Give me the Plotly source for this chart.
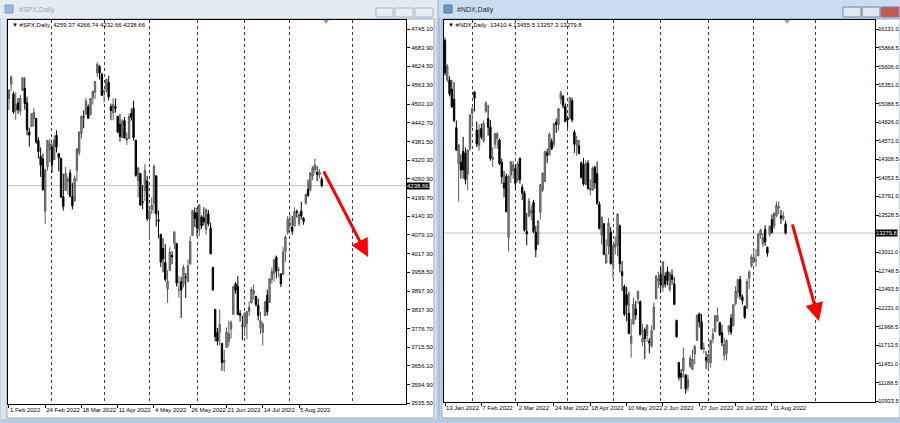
import plotly.graph_objects as go
import pandas as pd

# ---------------- data ----------------
US_HOLIDAYS = ["2022-01-17", "2022-02-21", "2022-04-15", "2022-05-30", "2022-06-20", "2022-07-04"]

# SPX daily, 1 Feb 2022 - 19 Aug 2022
spx_open = [4519.6,4566.4,4535.4,4482.8,4505.8,4480.0,4547.0,4553.2,4506.3,4412.6,4429.3,4455.8,4456.1,4384.6,4332.7,4324.9,4155.8,4298.4,4354.2,
            4363.1,4322.6,4401.3,4342.1,4327.0,4202.7,4223.1,4252.6,4279.5,4202.8,4188.8,4288.1,4345.1,4407.3,4462.4,4469.1,4493.1,4469.0,4522.7,4541.1,4602.9,4624.2,4599.0,
            4540.3,4547.9,4572.5,4494.2,4474.7,4494.2,4462.6,4437.6,4394.3,4449.1,4385.6,4390.6,4472.3,4489.2,4385.8,4255.3,4278.1,4186.5,4222.6,4253.8,
            4130.6,4159.8,4181.2,4270.4,4128.2,4081.3,4035.2,3990.1,3903.9,3963.9,4013.0,4052.0,4051.9,3899.0,3927.8,3919.4,3942.9,3929.6,3984.6,4077.4,4151.1,
            4149.8,4095.4,4137.6,4134.7,4096.5,4147.1,4101.7,3974.4,3838.2,3763.5,3764.1,3728.2,3665.9,3715.3,3733.9,3774.7,3821.8,3920.8,3913.0,3825.1,3785.9,
            3781.0,3792.6,3831.8,3858.9,3888.3,3880.9,3851.9,3779.7,3763.9,3818.0,3883.8,3860.7,3935.3,3955.5,4007.4,3965.7,3953.2,3951.4,4026.1,4087.3,
            4112.4,4104.2,4107.9,4154.9,4115.9,4155.9,4133.1,4181.0,4227.4,4225.0,4269.4,4290.5,4280.4,4273.1,4259.4]
spx_high = [4550.5,4595.3,4542.9,4539.7,4521.9,4531.3,4590.0,4588.9,4526.3,4426.2,4472.8,4490.0,4456.1,4394.6,4362.1,4341.5,4294.7,4385.3,4388.8,
            4375.0,4401.5,4416.8,4342.1,4327.0,4276.9,4299.4,4268.3,4291.0,4247.6,4271.1,4358.0,4412.7,4465.4,4481.8,4522.0,4501.1,4520.6,4546.0,4575.7,4637.3,4627.8,4603.1,
            4548.7,4583.5,4593.5,4503.9,4521.2,4520.4,4464.4,4471.0,4453.9,4460.5,4410.3,4471.0,4488.3,4512.9,4385.8,4299.0,4278.1,4240.7,4308.5,4269.7,
            4169.8,4200.1,4307.7,4270.4,4157.7,4081.3,4068.8,4049.1,3964.8,4038.9,4026.2,4090.7,4051.9,3945.9,3943.4,3981.9,3955.7,3999.3,4075.1,4158.5,4168.3,
            4166.5,4177.5,4142.7,4168.8,4164.9,4160.1,4119.1,3974.4,3838.2,3778.2,3837.6,3728.2,3707.7,3779.7,3801.8,3802.6,3913.7,3927.7,3945.9,3836.5,3818.0,
            3829.8,3832.2,3863.6,3910.6,3918.5,3880.9,3873.4,3829.4,3796.4,3863.6,3902.4,3939.8,3974.1,3999.3,4012.4,3975.3,3953.2,4039.6,4078.9,4140.2,
            4144.9,4140.5,4167.7,4161.3,4151.6,4186.6,4137.3,4211.0,4257.9,4280.5,4301.8,4325.3,4302.2,4292.5,4266.7]
spx_low = [4483.5,4544.3,4470.4,4451.5,4471.5,4465.4,4547.0,4484.3,4401.4,4364.8,4429.3,4429.0,4373.8,4327.2,4267.1,4221.5,4114.7,4286.8,4315.1,
           4279.5,4322.6,4345.6,4284.9,4199.9,4157.9,4223.1,4209.8,4200.5,4161.7,4187.9,4251.9,4335.7,4390.6,4424.3,4469.1,4455.8,4465.2,4501.1,4517.7,4589.7,4581.3,4530.4,
           4507.6,4539.2,4514.2,4450.0,4450.3,4474.6,4408.4,4381.3,4392.7,4390.8,4370.3,4390.6,4448.8,4384.5,4267.6,4200.8,4175.0,4162.9,4188.6,4124.3,
           4062.5,4147.1,4148.9,4106.0,4067.9,3975.5,3958.2,3928.8,3858.9,3963.9,3983.9,4033.9,3911.9,3876.6,3810.3,3909.0,3875.1,3925.0,3984.6,4077.4,4104.9,
           4073.9,4074.4,4098.7,4109.2,4080.2,4107.2,4017.2,3900.2,3734.3,3721.6,3722.3,3639.8,3636.9,3715.3,3717.7,3743.5,3821.8,3889.7,3820.1,3799.0,3738.7,
           3752.1,3742.1,3817.2,3858.9,3869.3,3847.2,3802.4,3759.1,3721.6,3817.2,3818.6,3860.7,3922.0,3927.6,3938.2,3943.5,3910.7,3951.4,3992.0,4079.2,
           4096.0,4079.8,4107.9,4135.4,4107.3,4128.9,4112.1,4177.3,4201.4,4219.8,4256.9,4277.8,4253.1,4262.0,4232.7]
spx_close = [4546.5,4589.4,4477.4,4500.5,4483.9,4521.5,4587.2,4504.1,4418.6,4401.7,4471.1,4475.0,4380.3,4348.9,4304.8,4225.5,4288.7,4384.7,4373.9,
             4306.3,4386.5,4363.5,4328.9,4201.1,4170.7,4277.9,4259.5,4204.3,4173.1,4262.5,4357.9,4411.7,4463.1,4461.2,4511.6,4456.2,4520.2,4543.1,4575.5,4631.6,4602.5,4530.4,
             4545.9,4582.6,4525.1,4481.2,4500.2,4488.3,4412.5,4397.5,4446.6,4392.6,4391.7,4462.2,4459.5,4393.7,4271.8,4296.1,4175.2,4184.0,4287.5,4131.9,
             4155.4,4175.5,4300.2,4146.9,4123.3,3991.2,4001.1,3935.2,3930.1,4023.9,4008.0,4088.9,3923.7,3900.8,3901.4,3973.8,3941.5,3978.7,4057.8,4158.2,4132.2,
             4101.2,4176.8,4108.5,4121.4,4160.7,4115.8,4017.8,3900.9,3749.6,3735.5,3790.0,3666.8,3674.8,3764.8,3759.9,3795.7,3911.7,3900.1,3821.6,3818.8,3785.4,
             3825.3,3831.4,3845.1,3902.6,3899.4,3854.4,3818.8,3801.8,3790.4,3863.2,3830.9,3936.7,3959.9,3999.0,3961.6,3966.8,3921.1,4023.6,4072.4,4130.3,
             4118.6,4091.2,4155.2,4151.9,4145.2,4140.1,4122.5,4210.2,4207.3,4280.2,4297.1,4305.2,4274.0,4283.7,4238.66]

# NDX daily, 13 Jan 2022 - 19 Aug 2022
ndx_open = [15969,15420,15420,15290,15150,14750,14250,14270,14420,14400,14100,14460,
            14950,15250,14720,14500,14740,14570,14980,14880,14760,14310,14520,14600,14580,14270,13980,14070,13220,14090,14150,
            14180,14020,14320,13920,13840,13300,13520,13560,13710,13290,13120,13570,13880,14000,14400,14370,14560,14520,14830,14790,15150,15190,15050,
            14880,14880,15130,14690,14500,14500,14260,14240,13960,14260,13880,13880,14200,14110,13680,13250,13410,12860,13100,13290,
            12830,13080,13110,13380,12740,12530,12420,12160,11740,12010,12220,12360,12320,11760,11930,11850,11770,11700,11930,12360,12610,
            12700,12520,12680,12740,12490,12690,12570,12060,11470,11320,11350,11300,11130,11420,11380,11590,11780,12150,12040,11660,11540,
            11470,11470,11800,11900,12050,12030,11890,11570,11600,11910,12090,11990,12290,12450,12630,12390,12260,12230,12650,12820,
            12880,12890,12960,13250,13130,13330,13080,13260,13470,13380,13520,13630,13520,13480,13410.4]
ndx_high = [16010,15640,15470,15420,15390,14850,14520,14380,14624,14477,14450,14940,
            15030,15260,14840,14800,14810,14850,15120,15070,14860,14480,14680,14690,14600,14320,14150,14110,14090,14290,14290,
            14230,14280,14340,13960,13870,13560,13770,13670,13740,13380,13460,13960,14120,14430,14460,14690,14600,14810,14880,15020,15265,15210,15090,
            14910,15180,15170,14720,14640,14580,14280,14330,14290,14300,14030,14210,14220,14280,13720,13510,13420,13190,13490,13360,
            13110,13240,13560,13400,12890,12560,12530,12460,12080,12380,12330,12480,12340,12010,11960,12000,11810,11990,12310,12690,12740,
            12790,12880,12730,12810,12740,12770,12660,12070,11470,11380,11680,11310,11300,11570,11650,11720,12140,12170,12150,11750,11630,
            11590,11790,11950,12140,12240,12040,12000,11820,11800,11990,12150,12290,12540,12640,12680,12420,12260,12640,12760,12980,
            13050,13060,13280,13340,13280,13390,13090,13390,13540,13560,13720,13720,13600,13580,13455.5]
ndx_low = [15480,15390,15190,15030,14830,14430,13720,14040,14040,13960,13880,14430,
           14760,14980,14480,14430,14590,14540,14960,14640,14290,14200,14460,14460,14230,13970,13780,13570,13021,13980,14040,
           13900,13990,13970,13740,13300,13110,13500,13460,13280,12943,13110,13470,13850,14000,14260,14370,14440,14480,14680,14710,15080,15020,14830,
           14750,14870,14830,14400,14360,14380,14040,13940,13950,13890,13810,13870,13900,13670,13330,13120,12970,12870,12980,12840,
           12650,12980,12960,12730,12470,12120,12050,11870,11540,12000,12070,12290,11850,11700,11520,11760,11600,11680,11930,12360,12510,
           12450,12460,12520,12550,12460,12560,12280,11820,11220,11100,11260,11037,11070,11390,11360,11450,11780,11960,11650,11600,11380,
           11380,11400,11740,11900,12040,11840,11700,11500,11500,11860,11860,11970,12270,12370,12350,12280,12080,12230,12500,12800,
           12860,12810,12960,13200,13090,13100,12950,13230,13270,13340,13500,13540,13410,13450,13257.3]
ndx_close = [15517,15611,15224,15044,14854,14439,14509,14158,14164,14029,14440,14930,
             15022,15166,14523,14719,14623,14811,15096,14758,14322,14339,14670,14667,14251,14064,13908,13578,14073,14273,14237,
             13976,14244,14025,13838,13319,13269,13728,13599,13301,13047,13449,13956,14118,14420,14365,14656,14458,14809,14796,15018,15240,15060,14838,
             14862,15172,14860,14518,14573,14392,14058,13965,14250,13898,13904,14187,13981,13698,13345,13500,12983,12979,13418,12855,
             13104,13124,13545,12851,12685,12146,12277,11875,11841,12286,12135,12463,11862,11808,11806,11994,11745,11916,12246,12681,12643,
             12553,12878,12564,12614,12721,12632,12283,11830,11264,11265,11536,11100,11230,11530,11516,11696,12132,12039,11658,11676,11504,
             11586,11781,11870,12125,12126,11860,11749,11728,11780,11983,11895,12278,12470,12631,12397,12337,12104,12602,12737,12947,
             12938,12900,13262,13320,13219,13159,12997,13373,13291,13560,13668,13646,13488,13522,13279.8]

spx_tick_dates = ["2022-02-01","2022-02-24","2022-03-18","2022-04-11","2022-05-04","2022-05-26","2022-06-21","2022-07-14","2022-08-05"]
ndx_tick_dates = ["2022-01-13","2022-02-07","2022-03-02","2022-03-24","2022-04-18","2022-05-10","2022-06-02","2022-06-27","2022-07-20","2022-08-11"]

spx_price_ticks = [4745.10,4683.90,4624.50,4563.30,4502.10,4442.70,4381.50,4320.30,4260.90,4199.70,4140.30,
                   4079.10,4017.90,3958.50,3897.30,3837.90,3776.70,3715.50,3656.10,3594.90,3535.50]
ndx_price_ticks = [16131.0,15868.5,15606.0,15351.0,15088.5,14826.0,14571.0,14308.5,14053.5,13791.0,13528.5,
                   13011.0,12748.5,12493.5,12231.0,11968.5,11713.5,11451.0,11188.5,10933.5]

spx_header = "#SPX,Daily  4259.37 4266.74 4232.66 4238.66"
ndx_header = "#NDX,Daily  13410.4 13455.5 13257.3 13279.8"

# future month grid line (September) as placed by the terminal, in bar units
spx_future_grid = 151.4
ndx_future_grid = 163.3

# ---------------- helpers ----------------
W, H = 900, 423
FONT = "Liberation Sans"


def px(x):
    return x / W


def py(y):
    return 1 - y / H


def trading_days(start, end):
    d = pd.bdate_range(start, end)
    return list(d[~d.isin(pd.to_datetime(US_HOLIDAYS))])


def date_label(d):
    return f"{d.day} {d.strftime('%b %Y')}"


spx_dates = trading_days("2022-02-01", "2022-08-19")
ndx_dates = trading_days("2022-01-13", "2022-08-19")


def month_starts(dates):
    out = []
    for i in range(1, len(dates)):
        if dates[i].month != dates[i - 1].month:
            out.append(i)
    return out


def make_candles(dates, o, h, l, c, xa, ya):
    return go.Candlestick(
        x=list(range(len(dates))), open=o, high=h, low=l, close=c,
        xaxis=xa, yaxis=ya, whiskerwidth=0,
        increasing=dict(line=dict(color="#5c5c5c", width=1), fillcolor="#8e8e8e"),
        decreasing=dict(line=dict(color="#000000", width=1), fillcolor="#000000"),
        hoverinfo="skip", showlegend=False,
    )


fig = go.Figure()
fig.add_trace(make_candles(spx_dates, spx_open, spx_high, spx_low, spx_close, "x", "y"))
fig.add_trace(make_candles(ndx_dates, ndx_open, ndx_high, ndx_low, ndx_close, "x2", "y2"))

tickfont = dict(family=FONT, size=6, color="#000000")


def xaxis_cfg(dates, tick_dates, grid_extra, dom, rng, anchor):
    idx = [dates.index(pd.Timestamp(t)) for t in tick_dates]
    return dict(
        domain=dom, range=rng, anchor=anchor, showgrid=False, zeroline=False, automargin=False,
        showline=True, linecolor="#000000", linewidth=1, mirror=True,
        tickmode="array", tickvals=idx, ticktext=[date_label(pd.Timestamp(t)) for t in tick_dates],
        ticks="outside", ticklen=3, tickcolor="#000000", ticklabelposition="outside right",
        tickangle=0, tickfont=tickfont,
        minor=dict(tickmode="array", tickvals=month_starts(dates) + [grid_extra],
                   showgrid=True, griddash="dot", gridcolor="#3a3a3a", gridwidth=1, ticks=""),
        rangeslider=dict(visible=False), fixedrange=True,
    )


def yaxis_cfg(ticks, fmt, dom, rng, anchor, fsize, standoff):
    return dict(
        domain=dom, range=rng, anchor=anchor, side="right", showgrid=False, zeroline=False,
        automargin=False, showline=True, linecolor="#000000", linewidth=1, mirror=True,
        tickmode="array", tickvals=ticks, ticktext=[fmt.format(v) for v in ticks],
        ticks="outside", ticklen=3, tickcolor="#000000", ticklabelstandoff=standoff,
        tickfont=dict(family=FONT, size=fsize, color="#000000"), fixedrange=True,
    )


fig.update_layout(
    width=W, height=H, autosize=False,
    margin=dict(l=0, r=0, t=0, b=0),
    paper_bgcolor="#d3dde9", plot_bgcolor="#ffffff",
    boxgap=0.15,
    xaxis=xaxis_cfg(spx_dates, spx_tick_dates, spx_future_grid, [px(8), px(406)], [-0.4, 175.2], "y"),
    yaxis=yaxis_cfg(spx_price_ticks, "{:.2f}", [py(404), py(20)], [3532.3, 4774.2], "x", 6, 0),
    xaxis2=xaxis_cfg(ndx_dates, ndx_tick_dates, ndx_future_grid, [px(444), px(875)], [-0.44, 189.4], "y2"),
    yaxis2=yaxis_cfg(ndx_price_ticks, "{:.1f}", [py(402), py(20)], [10919.5, 16256.7], "x2", 5.7, -2),
    showlegend=False,
)

shapes = []


def rect(x0, y0, x1, y1, fill, line=None, lw=0):
    shapes.append(dict(type="rect", xref="paper", yref="paper",
                       x0=px(x0), x1=px(x1), y0=py(y1), y1=py(y0),
                       fillcolor=fill, line=dict(color=line or fill, width=lw), layer="below"))


# left (inactive) window
rect(0, 0, 437, 423, "#dde6f0", "#aebccc", 1)
rect(0, 0, 437, 18, "#e4ebf3")
rect(7, 19, 434, 418, "#ffffff", "#9aa8b8", 1)
# right (active) window
rect(439, 0, 900, 423, "#c2d5ea", "#8ea9c8", 1)
rect(439, 0, 900, 18, "#cadcef")
rect(442, 19, 900, 418, "#ffffff", "#8ea9c8", 1)
# bottom task strip
rect(0, 419, 900, 423, "#b3cbe6")

# window icons
rect(5, 5, 13, 13, "#9cb7d8", "#7f9cc2", 1)
rect(444, 5, 452, 13, "#6e95c9", "#4f78ad", 1)
# caption buttons (inactive window)
for a, b in [(376, 393), (395, 413), (415, 433)]:
    shapes.append(dict(type="rect", xref="paper", yref="paper", x0=px(a), x1=px(b), y0=py(17), y1=py(8),
                       fillcolor="#e8eef5", line=dict(color="#a9b6c6", width=1)))
# caption buttons (active window)
for a, b, f in [(843, 861, "#dfe8f3"), (862, 880, "#dfe8f3"), (881, 899, "#c9574d")]:
    shapes.append(dict(type="rect", xref="paper", yref="paper", x0=px(a), x1=px(b), y0=py(17), y1=py(7),
                       fillcolor=f, line=dict(color="#6f86a3", width=1)))

# current price lines
shapes.append(dict(type="line", xref="x domain", yref="y", x0=0, x1=1, y0=spx_close[-1], y1=spx_close[-1],
                   line=dict(color="#c0c0c0", width=1), layer="below"))
shapes.append(dict(type="line", xref="x2 domain", yref="y2", x0=0, x1=1, y0=ndx_close[-1], y1=ndx_close[-1],
                   line=dict(color="#c0c0c0", width=1), layer="below"))
# chart shift markers
for cx in (326, 787):
    shapes.append(dict(type="path", xref="paper", yref="paper",
                       path=f"M {px(cx-3)} {py(20)} L {px(cx+3)} {py(20)} L {px(cx)} {py(24)} Z",
                       fillcolor="#a0a0a0", line=dict(color="#a0a0a0", width=0)))
fig.update_layout(shapes=shapes)

ann = []
# window captions
ann.append(dict(xref="paper", yref="paper", x=px(17), y=py(10), xanchor="left", yanchor="middle",
                text="#SPX,Daily", showarrow=False, font=dict(family=FONT, size=7, color="#9aaabb")))
ann.append(dict(xref="paper", yref="paper", x=px(455), y=py(10), xanchor="left", yanchor="middle",
                text="#NDX,Daily", showarrow=False, font=dict(family=FONT, size=7, color="#1b2a3c")))
# chart headers
ann.append(dict(xref="paper", yref="paper", x=px(10), y=py(25), xanchor="left", yanchor="middle",
                text="▼ " + spx_header, showarrow=False, font=dict(family=FONT, size=6, color="#000000")))
ann.append(dict(xref="paper", yref="paper", x=px(446), y=py(25), xanchor="left", yanchor="middle",
                text="▼ " + ndx_header, showarrow=False, font=dict(family=FONT, size=6, color="#000000")))
# current price boxes
ann.append(dict(xref="x domain", yref="y", x=1.0, y=spx_close[-1], xanchor="left", yanchor="middle",
                text=f"{spx_close[-1]:.2f}", showarrow=False, bgcolor="#000000", borderpad=0,
                font=dict(family=FONT, size=6, color="#ffffff")))
ann.append(dict(xref="x2 domain", yref="y2", x=1.0, y=ndx_close[-1], xanchor="left", yanchor="middle",
                text=f"{ndx_close[-1]:.1f}", showarrow=False, bgcolor="#000000", borderpad=0,
                font=dict(family=FONT, size=5.7, color="#ffffff")))
# red forecast arrows
ann.append(dict(xref="paper", yref="paper", x=px(368), y=py(257), ax=323 - 368, ay=170 - 257,
                showarrow=True, arrowhead=2, arrowsize=1.2, arrowwidth=3, arrowcolor="#ff0000", text=""))
ann.append(dict(xref="paper", yref="paper", x=px(819), y=py(321), ax=792 - 819, ay=223 - 321,
                showarrow=True, arrowhead=2, arrowsize=1.2, arrowwidth=3, arrowcolor="#ff0000", text=""))
fig.update_layout(annotations=ann)

fig.write_html("out.html",
               config={"displayModeBar": False, "staticPlot": True},
               post_script="document.body.style.margin='0';document.body.style.padding='0';"
                           "document.body.style.overflow='hidden';")
